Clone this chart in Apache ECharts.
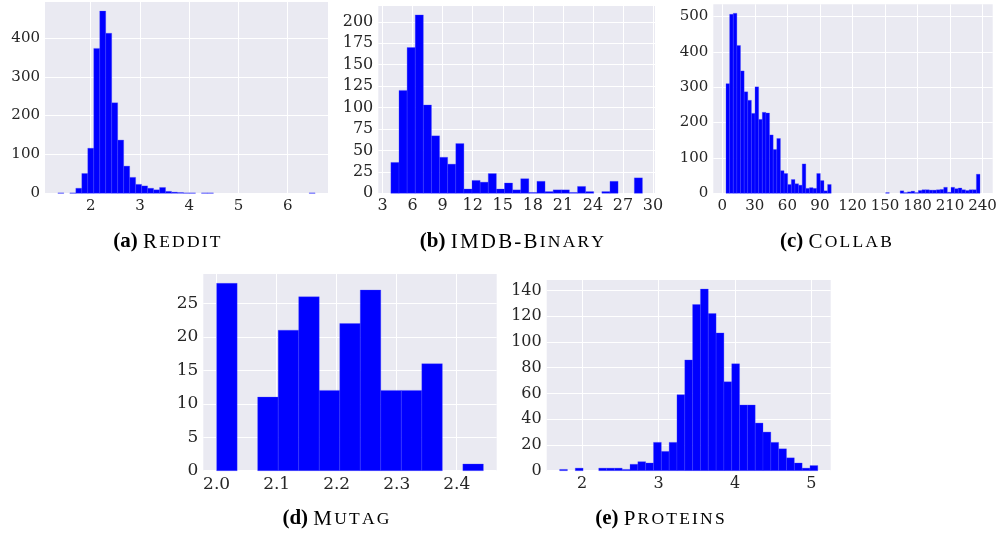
<!DOCTYPE html>
<html><head><meta charset="utf-8">
<script src="https://cdn.jsdelivr.net/npm/echarts@6/dist/echarts.min.js"></script>
<style>html,body{margin:0;padding:0;background:#fff}#c{width:1000px;height:539px}</style>
</head><body><div id="c"></div>
<script>
// ---- data (histogram bins: start, width, counts) ----
const redditStart = 1.333, redditWidth = 0.1215;
const redditCounts = [1,0,1,13,51,116,373,469,412,233,137,70,41,23,19,13,9,15,5,3,2,1,1,0,1,1,0,0,0,0,0,0,0,0,0,0,0,0,0,0,0,0,1];
const redditXTicks = [2,3,4,5,6];
const redditYTicks = [0,100,200,300,400];

const imdbStart = 3.83, imdbWidth = 0.81;
const imdbCounts = [36,120,170,208,103,67,42,34,58,5,15,13,23,5,12,4,17,1,14,2,4,4,1,8,2,0,2,14,0,0,18];
const imdbXTicks = [3,6,9,12,15,18,21,24,27,30];
const imdbYTicks = [0,25,50,75,100,125,150,175,200];

const collabStart = 3.4, collabWidth = 3.346;
const collabCounts = [310,506,509,418,346,287,263,226,301,209,229,227,165,124,155,64,56,25,39,27,23,83,14,16,14,56,36,7,25,
  0,0,0,0,0,0,0,0,0,0,0,0,0,0,0,
  2,0,0,0,7,2,4,6,2,8,10,10,9,9,10,11,17,3,17,13,15,10,8,10,10,54];
const collabXTicks = [0,30,60,90,120,150,180,210,240];
const collabYTicks = [0,100,200,300,400,500];

const mutagStart = 2.0, mutagWidth = 0.034188;
const mutagCounts = [28,0,11,21,26,12,22,27,12,12,16,0,1];
const mutagXTicks = [2.0,2.1,2.2,2.3,2.4];
const mutagYTicks = [0,5,10,15,20,25];

const proteinsStart = 1.7047, proteinsWidth = 0.10237;
const proteinsCounts = [1,0,2,0,0,2,2,2,1,5,7,6,22,15,22,59,86,129,141,122,107,69,83,51,51,37,30,22,17,10,6,2,4];
const proteinsXTicks = [2,3,4,5];
const proteinsYTicks = [0,20,40,60,80,100,120,140];

const captionTags = ['(a)', '(b)', '(c)', '(d)', '(e)'];
const captionNames = ['Reddit', 'IMDB-Binary', 'Collab', 'Mutag', 'Proteins'];

// ---- chart ----
const panels = [
  {start: redditStart, width: redditWidth, counts: redditCounts, xt: redditXTicks, yt: redditYTicks, fmt: v=>String(v), fs: 15,
   grid: {left: 45, top: 2, width: 283, height: 191.3}, cap: [168, 242]},
  {start: imdbStart, width: imdbWidth, counts: imdbCounts, xt: imdbXTicks, yt: imdbYTicks, fmt: v=>String(v), fs: 16,
   grid: {left: 378.3, top: 6, width: 276.7, height: 187.3}, cap: [513, 242]},
  {start: collabStart, width: collabWidth, counts: collabCounts, xt: collabXTicks, yt: collabYTicks, fmt: v=>String(v), fs: 15,
   grid: {left: 713.3, top: 4.3, width: 279.4, height: 189}, cap: [837, 242]},
  {start: mutagStart, width: mutagWidth, counts: mutagCounts, xt: mutagXTicks, yt: mutagYTicks, fmt: v=>Number(v).toFixed(1), fs: 17,
   grid: {left: 203.3, top: 274, width: 293.4, height: 196.7}, cap: [337, 519]},
  {start: proteinsStart, width: proteinsWidth, counts: proteinsCounts, xt: proteinsXTicks, yt: proteinsYTicks, fmt: v=>String(v), fs: 16,
   grid: {left: 546.7, top: 280, width: 284, height: 190.7}, cap: [661, 519]}
];

// small caps: uppercase letters stay large, lowercase become smaller uppercase, each letter slightly tracked
function smallCaps(name) {
  let out = '';
  name.split('').forEach((ch) => {
    if (ch >= 'a' && ch <= 'z') out += '{s|' + ch.toUpperCase() + '}';
    else out += '{r|' + ch + '}';
  });
  return out;
}

const grids = [], xAxes = [], yAxes = [], series = [], graphics = [];
const capRich = {
  b: {fontFamily: 'Liberation Serif', fontWeight: 'bold', fontSize: 21, color: '#000'},
  sp: {fontFamily: 'Liberation Serif', fontSize: 21, color: '#000'},
  r: {fontFamily: 'Liberation Serif', fontSize: 21, color: '#000', padding: [0, 2.2, 0, 0]},
  s: {fontFamily: 'Liberation Serif', fontSize: 17.5, color: '#000', padding: [0, 2.2, 0, 0]}
};
panels.forEach((p, i) => {
  const end = p.start + p.width * p.counts.length;
  const span = end - p.start;
  const ymax = Math.max.apply(null, p.counts) * 1.05;
  grids.push(Object.assign({backgroundColor: '#EAEAF2', show: true, borderWidth: 0}, p.grid));
  const lbl = {fontFamily: 'DejaVu Serif', fontSize: p.fs, color: '#262626'};
  xAxes.push({type: 'value', gridIndex: i, min: p.start - 0.05 * span, max: end + 0.05 * span,
    axisLine: {show: false}, axisTick: {show: false, customValues: p.xt},
    axisLabel: Object.assign({customValues: p.xt, formatter: p.fmt, margin: 5}, lbl),
    splitLine: {show: true, lineStyle: {color: '#ffffff', width: 1}}});
  yAxes.push({type: 'value', gridIndex: i, min: 0, max: ymax,
    axisLine: {show: false}, axisTick: {show: false, customValues: p.yt},
    axisLabel: Object.assign({customValues: p.yt, margin: 5}, lbl),
    splitLine: {show: true, lineStyle: {color: '#ffffff', width: 1}}});
  const data = p.counts.map((c, k) => [p.start + k * p.width, p.start + (k + 1) * p.width, c]);
  series.push({type: 'custom', xAxisIndex: i, yAxisIndex: i, data: data, encode: {x: [0, 1], y: 2},
    renderItem: function (params, api) {
      const c = api.value(2);
      if (!c) return null;
      const p0 = api.coord([api.value(0), c]);
      const p1 = api.coord([api.value(1), 0]);
      return {type: 'rect', shape: {x: p0[0], y: p0[1], width: p1[0] - p0[0], height: p1[1] - p0[1]},
        style: {fill: '#0000ff', stroke: 'rgba(70,70,255,0.5)', lineWidth: 0.6}};
    }});
  graphics.push({type: 'text', x: p.cap[0], y: p.cap[1],
    style: {text: '{b|' + captionTags[i] + '}{sp| }' + smallCaps(captionNames[i]), rich: capRich, align: 'center', verticalAlign: 'middle'}});
});

const chart = echarts.init(document.getElementById('c'), null, {renderer: 'canvas'});
chart.setOption({
  animation: false,
  grid: grids, xAxis: xAxes, yAxis: yAxes, series: series,
  graphic: graphics
});
</script></body></html>
